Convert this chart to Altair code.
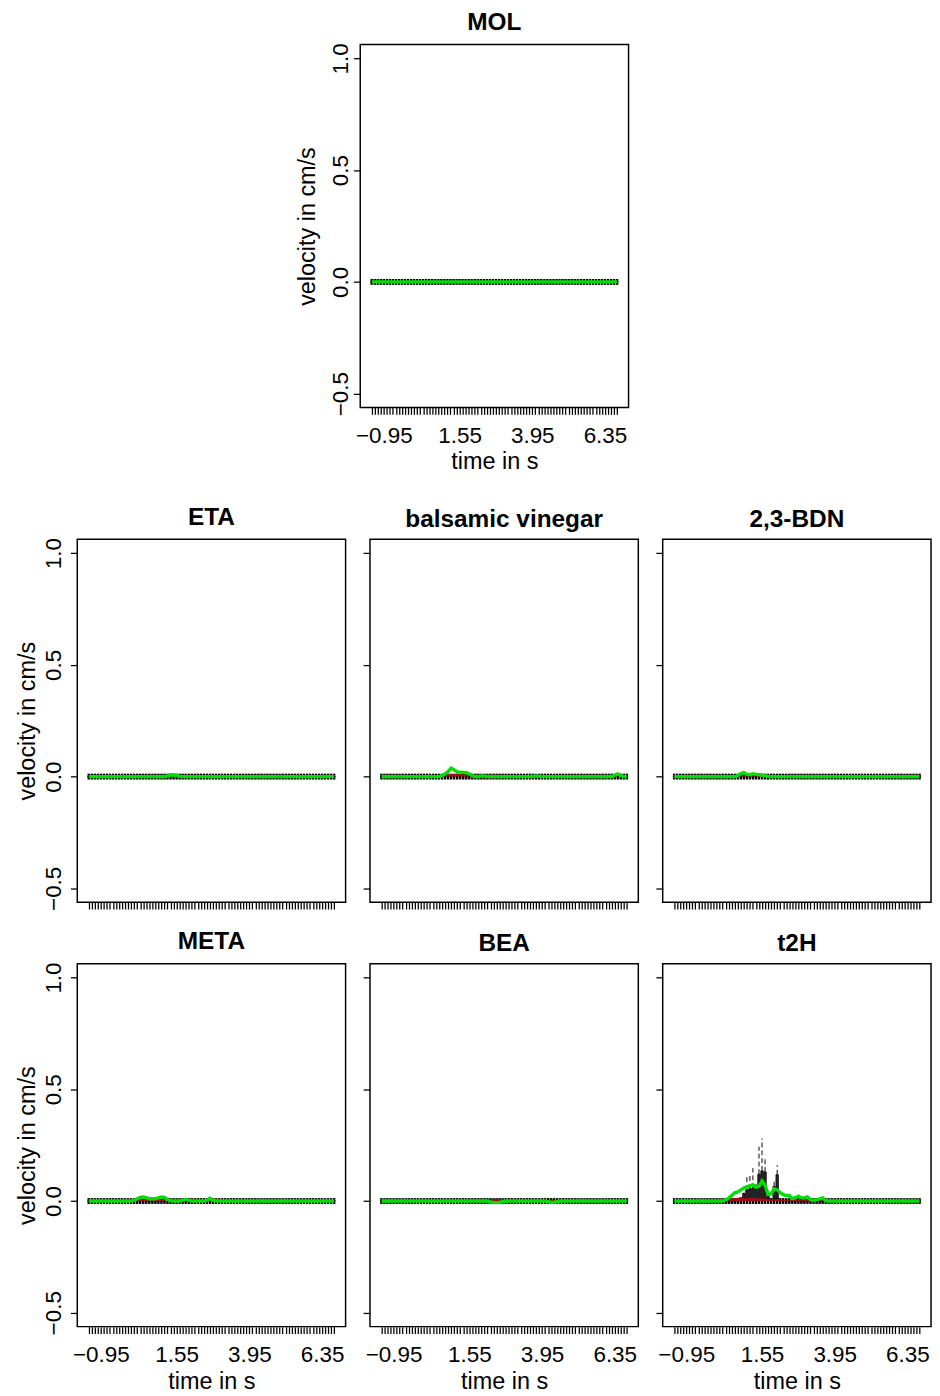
import altair as alt
import pandas as pd

N_STEPS = 82
TIMES = [round(-1.35 + 0.1 * i, 2) for i in range(N_STEPS)]
X_LABELS = [-0.95, 1.55, 3.95, 6.35]
Y_TICKS = [-0.5, 0.0, 0.5, 1.0]

# sparse series: {start index: [values...]}, zero elsewhere
GREEN = {
    "MOL": {},
    "ETA": {26: [0.003, 0.007, 0.008, 0.005, 0.001]},
    "balsamic vinegar": {20: [0.004, 0.012, 0.022, 0.038, 0.03, 0.021, 0.02, 0.019, 0.018, 0.012, 0.003],
                         33: [0.003, 0.002], 51: [0.003, 0.002], 77: [0.006, 0.012, 0.004]},
    "2,3-BDN": {21: [0.004, 0.014, 0.018, 0.01, 0.008, 0.013, 0.01, 0.008, 0.006, 0.004, 0.001]},
    "META": {15: [0.003, 0.01, 0.016, 0.018, 0.015, 0.01, 0.01, 0.01, 0.014, 0.018, 0.016, 0.006, 0.002],
             31: [0.003, 0.008, 0.003], 39: [0.004, 0.012, 0.003]},
    "BEA": {36: [-0.004, -0.007, -0.007, -0.006, -0.002], 55: [-0.003, -0.006, -0.005, -0.002]},
    "t2H": {17: [0.005, 0.013, 0.025, 0.037, 0.041, 0.05, 0.058, 0.063, 0.068, 0.072, 0.062, 0.066,
                 0.09, 0.07, 0.03, 0.032, 0.055, 0.05, 0.037, 0.028, 0.025, 0.025, 0.01, 0.015,
                 0.022, 0.014, 0.014, 0.018, 0.006, 0.002, 0.006, 0.01, 0.014, 0.002]},
}
RED = {
    "ETA": {27: [0.005, 0.006, 0.003]},
    "balsamic vinegar": {21: [0.005, 0.01, 0.012, 0.012, 0.012, 0.012, 0.011, 0.01, 0.006], 78: [0.006]},
    "2,3-BDN": {22: [0.005, 0.007, 0.007, 0.006, 0.007, 0.007, 0.006, 0.005, 0.003]},
    "META": {16: [0.006, 0.01, 0.012, 0.01, 0.008, 0.008, 0.009, 0.011, 0.012, 0.008, 0.004],
             31: [0.004, 0.006, 0.003], 40: [0.006]},
    "BEA": {27: [0.004], 36: [0.006, 0.009, 0.009, 0.008, 0.004], 55: [0.005, 0.008, 0.007, 0.004]},
    "t2H": {17: [0.004, 0.01, 0.012, 0.014, 0.015, 0.015, 0.014, 0.013, 0.014, 0.015, 0.014, 0.012,
                 0.013, 0.012, 0.009, 0.008, 0.008, 0.009, 0.008, 0.007, 0.006, 0.006, 0.004, 0.005,
                 0.008, 0.004, 0.005, 0.008, 0.004, 0.003, 0.005, 0.008, 0.004]},
}
BOX_Q3 = {
    "t2H": {22: [0.015, 0.035, 0.05, 0.055, 0.058, 0.055, 0.12, 0.135, 0.13, 0.02, 0.0, 0.065, 0.118]},
}
WHISK_HI = {
    "t2H": {24: [0.118, 0.12, 0.147, 0.08], 28: [0.243, 0.28, 0.19], 33: [0.1, 0.16]},
}

FONT = "Liberation Sans"
XDOM = [-1.728, 7.128]
YDOM = [-0.562, 1.062]
PW, PH = 275, 372
GREEN_COL = "#00dd00"
RED_COL = "#a01010"


def expand(sparse):
    vals = [0.0] * N_STEPS
    for start, seq in sparse.items():
        for k, v in enumerate(seq):
            vals[start + k] = v
    return vals


LABEL_EXPR = ("(abs(datum.value+0.95)<0.01 || abs(datum.value-1.55)<0.01 || "
              "abs(datum.value-3.95)<0.01 || abs(datum.value-6.35)<0.01) ? format(datum.value, '.2f') : ''")


def panel(name, xlab, ylab, ylabpad=5, ytitlepad=4):
    g = expand(GREEN.get(name, {}))
    r = expand(RED.get(name, {}))
    q3 = expand(BOX_Q3.get(name, {}))
    wh = expand(WHISK_HI.get(name, {}))
    df = pd.DataFrame({"t": TIMES, "green": g, "red": r, "q3": q3, "whi": wh})
    df["q1"] = 0.0
    df["med"] = 0.0
    df["zero"] = 0.0

    xscale = alt.Scale(domain=XDOM, nice=False, zero=False)
    yscale = alt.Scale(domain=YDOM, nice=False, zero=False)
    if xlab:
        xaxis = alt.Axis(values=TIMES, labelExpr=LABEL_EXPR, labelOverlap=False, labelFlush=False,
                         title="time in s", labelPadding=11, titlePadding=3)
    else:
        xaxis = alt.Axis(values=TIMES, labels=False, title=None)
    if ylab:
        yaxis = alt.Axis(values=Y_TICKS, format=".1f", labelAngle=270, labelAlign="center",
                         labelBaseline="bottom", labelOverlap=False, labelFlush=False,
                         labelPadding=ylabpad, title="velocity in cm/s", titlePadding=ytitlepad)
    else:
        yaxis = alt.Axis(values=Y_TICKS, labels=False, title=None)

    base = alt.Chart(df).transform_calculate(x0="datum.t - 0.04", x1="datum.t + 0.04")

    box = base.mark_rect(fill="#2a2a2a", stroke="black", strokeWidth=0.8).encode(
        x=alt.X("x0:Q", scale=xscale, axis=xaxis),
        x2="x1:Q",
        y=alt.Y("q1:Q", scale=yscale, axis=yaxis),
        y2="q3:Q",
    )
    med = base.mark_rule(color="black", strokeWidth=6).encode(
        x=alt.X("x0:Q", scale=xscale, axis=xaxis),
        x2="x1:Q",
        y=alt.Y("med:Q", scale=yscale, axis=yaxis),
    )
    whisk = base.transform_filter("datum.whi > datum.q3").mark_rule(
        color="black", strokeWidth=1, strokeDash=[5, 3]).encode(
        x=alt.X("t:Q", scale=xscale, axis=xaxis),
        y=alt.Y("q3:Q", scale=yscale, axis=yaxis),
        y2="whi:Q",
    )
    red = base.mark_area(color=RED_COL, opacity=1).encode(
        x=alt.X("t:Q", scale=xscale, axis=xaxis),
        y=alt.Y("red:Q", scale=yscale, axis=yaxis),
        y2="zero:Q",
    )
    green = base.mark_line(color=GREEN_COL, strokeWidth=3.5).encode(
        x=alt.X("t:Q", scale=xscale, axis=xaxis),
        y=alt.Y("green:Q", scale=yscale, axis=yaxis),
    )
    return alt.layer(box, med, whisk, red, green).properties(
        width=PW, height=PH, title=alt.TitleParams(name))


spacer = alt.Chart(pd.DataFrame({"s": [0]})).mark_point(opacity=0).encode(
    x=alt.value(0), y=alt.value(0)
).properties(width=222, height=1, view=alt.ViewBackground(stroke="transparent"))

row1 = alt.hconcat(spacer, panel("MOL", True, True, ylabpad=1, ytitlepad=11), spacing=0)
row2 = alt.hconcat(panel("ETA", False, True), panel("balsamic vinegar", False, False),
                   panel("2,3-BDN", False, False), spacing=15)
row3 = alt.hconcat(panel("META", True, True), panel("BEA", True, False),
                   panel("t2H", True, False), spacing=15)

chart = alt.vconcat(row1, alt.vconcat(row2, row3, spacing=17), spacing=30).properties(
    padding={"left": 7, "top": -16, "right": 0, "bottom": 0}
).configure_view(
    stroke="black", strokeWidth=1.5
).configure_axis(
    domain=False, grid=False, tickColor="black", tickWidth=1.3, tickSize=7,
    labelFont=FONT, labelFontSize=23, labelColor="black",
    titleFont=FONT, titleFontSize=24, titleFontWeight="normal", titleColor="black",
).configure_title(
    font=FONT, fontSize=25, fontWeight="bold", color="black", anchor="middle", frame="group", offset=8
)

chart.save("out.html", embed_options={"renderer": "svg", "actions": False})
